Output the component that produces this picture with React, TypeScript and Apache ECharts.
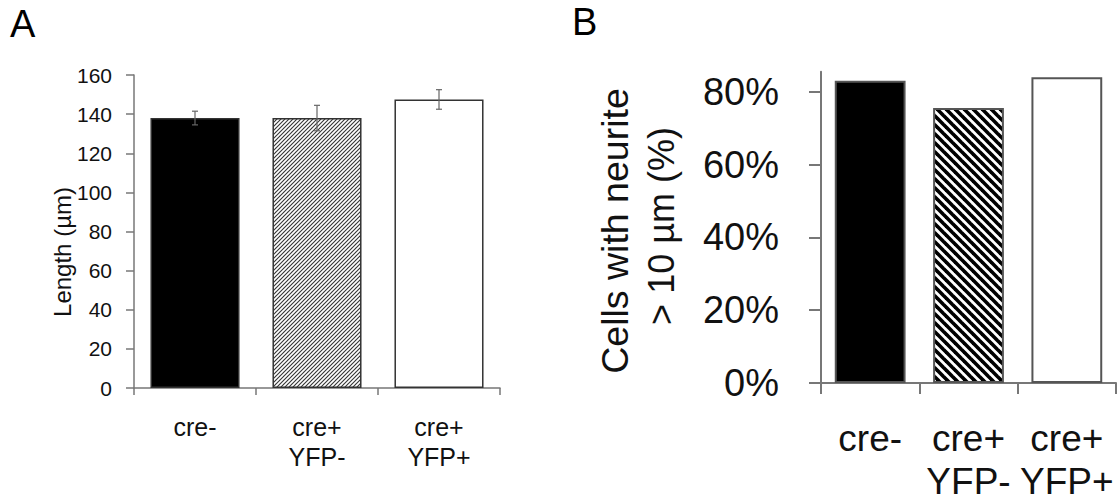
import React, { useEffect, useRef } from 'react';
import * as echarts from 'echarts';

// ---- Data ----
const categoriesA = ['cre-', 'cre+\nYFP-', 'cre+\nYFP+'];
const lengthMeans = [138, 138, 147.5];
const lengthErrors = [3.5, 6.5, 5];
const yMinA = 0;
const yMaxA = 160;
const yIntervalA = 20;

const categoriesB = ['cre-', 'cre+\nYFP-', 'cre+\nYFP+'];
const neuriteFractions = [0.83, 0.755, 0.84];
const yTicksB = [0, 0.2, 0.4, 0.6, 0.8];
const yMaxB = 0.855;

const panelLabels = ['A', 'B'];
const yNameA = 'Length (µm)';
const yNameB = ['Cells with neurite', '> 10 µm (%)'];

const FONT = '"Liberation Sans", Arial, Helvetica, sans-serif';
const TEXT = '#111111';
const AXIS = '#777777';

function hatchTile(size: number, lineWidth: number, color: string, bg: string, dir: 'up' | 'down') {
  const c = document.createElement('canvas');
  c.width = size;
  c.height = size;
  const ctx = c.getContext('2d')!;
  ctx.fillStyle = bg;
  ctx.fillRect(0, 0, size, size);
  ctx.strokeStyle = color;
  ctx.lineWidth = lineWidth;
  ctx.lineCap = 'square';
  for (let k = -1; k <= 1; k++) {
    ctx.beginPath();
    if (dir === 'up') {
      ctx.moveTo(k * size, size);
      ctx.lineTo(k * size + size, 0);
    } else {
      ctx.moveTo(k * size, 0);
      ctx.lineTo(k * size + size, size);
    }
    ctx.stroke();
  }
  return c;
}

export default function App() {
  const ref = useRef<HTMLDivElement>(null);

  useEffect(() => {
    if (!ref.current) return;
    const chart = echarts.init(ref.current, undefined, { renderer: 'svg' });

    const hatchA = { image: hatchTile(4, 1.1, '#333333', '#ffffff', 'up'), repeat: 'repeat' };
    const hatchB = { image: hatchTile(9, 3.6, '#000000', '#ffffff', 'down'), repeat: 'repeat' };

    const fillsA: any[] = ['#000000', hatchA, '#ffffff'];
    const fillsB: any[] = ['#000000', hatchB, '#ffffff'];

    const option: any = {
      animation: false,
      backgroundColor: '#ffffff',
      textStyle: { fontFamily: FONT },
      grid: [
        { left: 134, top: 75, width: 366, height: 313, containLabel: false },
        { left: 821, top: 71.7, width: 295, height: 316.6, containLabel: false },
      ],
      xAxis: [
        {
          type: 'category',
          gridIndex: 0,
          data: categoriesA,
          axisLine: { show: true, lineStyle: { color: AXIS, width: 1.5 } },
          axisTick: { show: true, length: 7, lineStyle: { color: AXIS, width: 1.5 } },
          axisLabel: {
            interval: 0,
            fontSize: 25,
            lineHeight: 30,
            color: TEXT,
            fontFamily: FONT,
            margin: 24,
          },
        },
        {
          type: 'category',
          gridIndex: 1,
          data: categoriesB,
          axisLine: { show: true, lineStyle: { color: AXIS, width: 2 } },
          axisTick: { show: true, length: 11, lineStyle: { color: AXIS, width: 2 } },
          axisLabel: {
            interval: 0,
            fontSize: 37,
            lineHeight: 43,
            color: TEXT,
            fontFamily: FONT,
            margin: 34,
          },
        },
      ],
      yAxis: [
        {
          type: 'value',
          gridIndex: 0,
          min: yMinA,
          max: yMaxA,
          interval: yIntervalA,
          splitLine: { show: false },
          axisLine: { show: true, lineStyle: { color: AXIS, width: 1.5 } },
          axisTick: { show: true, length: 8, lineStyle: { color: AXIS, width: 1.5 } },
          axisLabel: { fontSize: 21, color: TEXT, fontFamily: FONT, margin: 22 },
        },
        {
          type: 'value',
          gridIndex: 1,
          min: 0,
          max: yMaxB,
          splitLine: { show: false },
          axisLine: { show: true, lineStyle: { color: AXIS, width: 2 } },
          axisTick: {
            show: true,
            length: 12,
            customValues: yTicksB,
            lineStyle: { color: AXIS, width: 2 },
          },
          axisLabel: {
            customValues: yTicksB,
            fontSize: 38,
            color: TEXT,
            fontFamily: FONT,
            margin: 42,
            formatter: (v: number) => `${Math.round(v * 100)}%`,
          },
        },
      ],
      series: [
        {
          type: 'bar',
          xAxisIndex: 0,
          yAxisIndex: 0,
          barCategoryGap: '27%',
          data: lengthMeans.map((v, i) => ({
            value: v,
            itemStyle: { color: fillsA[i], borderColor: '#333333', borderWidth: 1.5 },
          })),
        },
        {
          type: 'custom',
          xAxisIndex: 0,
          yAxisIndex: 0,
          z: 5,
          data: lengthMeans.map((m, i) => [i, m, lengthErrors[i]]),
          renderItem: (params: any, api: any) => {
            const x = api.value(0);
            const m = api.value(1);
            const e = api.value(2);
            const top = api.coord([x, m + e]);
            const bot = api.coord([x, m - e]);
            const hw = 3;
            const style = { stroke: '#666666', lineWidth: 1.2 };
            return {
              type: 'group',
              children: [
                { type: 'line', shape: { x1: top[0], y1: top[1], x2: bot[0], y2: bot[1] }, style },
                { type: 'line', shape: { x1: top[0] - hw, y1: top[1], x2: top[0] + hw, y2: top[1] }, style },
                { type: 'line', shape: { x1: bot[0] - hw, y1: bot[1], x2: bot[0] + hw, y2: bot[1] }, style },
              ],
            };
          },
        },
        {
          type: 'bar',
          xAxisIndex: 1,
          yAxisIndex: 1,
          barCategoryGap: '28%',
          data: neuriteFractions.map((v, i) => ({
            value: v,
            itemStyle: { color: fillsB[i], borderColor: '#555555', borderWidth: 2 },
          })),
        },
      ],
      graphic: [
        {
          type: 'text',
          x: 10,
          y: 24,
          style: { text: panelLabels[0], font: `38px ${FONT}`, fill: '#000', textAlign: 'left', textVerticalAlign: 'middle' },
        },
        {
          type: 'text',
          x: 572,
          y: 22,
          style: { text: panelLabels[1], font: `38px ${FONT}`, fill: '#000', textAlign: 'left', textVerticalAlign: 'middle' },
        },
        {
          type: 'text',
          x: 62,
          y: 252,
          rotation: Math.PI / 2,
          style: { text: yNameA, font: `24px ${FONT}`, fill: TEXT, textAlign: 'center', textVerticalAlign: 'middle' },
        },
        {
          type: 'text',
          x: 615,
          y: 231,
          rotation: Math.PI / 2,
          style: { text: yNameB[0], font: `37.5px ${FONT}`, fill: TEXT, textAlign: 'center', textVerticalAlign: 'middle' },
        },
        {
          type: 'text',
          x: 661,
          y: 226,
          rotation: Math.PI / 2,
          style: { text: yNameB[1], font: `36px ${FONT}`, fill: TEXT, textAlign: 'center', textVerticalAlign: 'middle' },
        },
      ],
    };

    chart.setOption(option);
    return () => chart.dispose();
  }, []);

  return (
    <div
      ref={ref}
      style={{ position: 'absolute', left: 0, top: 0, width: 1119, height: 503, background: '#fff' }}
    />
  );
}
